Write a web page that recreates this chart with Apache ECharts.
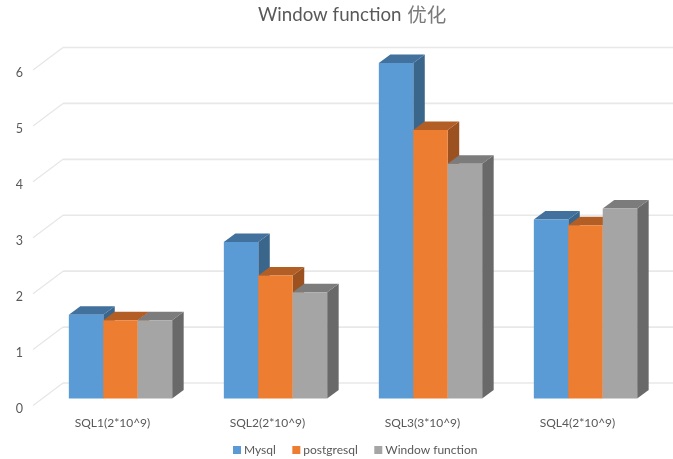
<!DOCTYPE html>
<html>
<head>
<meta charset="utf-8">
<style>html,body{margin:0;padding:0;background:#fff}#chart{width:673px;height:459px}</style>
<script src="https://cdn.jsdelivr.net/npm/echarts@6/dist/echarts.min.js"></script>
</head>
<body>
<div id="chart"></div>
<script>
const categories = ['SQL1(2*10^9)', 'SQL2(2*10^9)', 'SQL3(3*10^9)', 'SQL4(2*10^9)'];
const mysql = [1.5, 2.8, 6, 3.2];
const postgresql = [1.4, 2.2, 4.8, 3.1];
const windowFunction = [1.4, 1.9, 4.2, 3.4];
const yTicks = [0, 1, 2, 3, 4, 5, 6];

// Oblique projection used for the cuboids and the back wall
const DEPTH_X = 11.5, DEPTH_Y = 8.5;

function face(points, fill) {
  return { type: 'polygon', shape: { points }, style: { fill }, silent: true };
}

// One cuboid: front, top and right side, placed inside its category band
function cuboid(slot, colors) {
  return function (params, api) {
    const idx = api.value(0);
    const top = api.coord([idx, api.value(1)]);
    const base = api.coord([idx, 0]);
    const w = api.size([1, 0])[0] / 4.5;
    const x0 = top[0] - 1.5 * w + slot * w, x1 = x0 + w;
    const yT = top[1], yB = base[1];
    return {
      type: 'group',
      children: [
        face([[x1, yB], [x1 + DEPTH_X, yB - DEPTH_Y], [x1 + DEPTH_X, yT - DEPTH_Y], [x1, yT]], colors.side),
        face([[x0, yT], [x0 + DEPTH_X, yT - DEPTH_Y], [x1 + DEPTH_X, yT - DEPTH_Y], [x1, yT]], colors.top),
        face([[x0, yT], [x1, yT], [x1, yB], [x0, yB]], colors.front)
      ]
    };
  };
}

// Floor and wall gridlines: a thin diagonal on the left side, then a heavier run across the back
function wallLine(params, api) {
  const y = api.coord([0, api.value(0)])[1];
  const cs = params.coordSys;
  const backX = cs.x + 20, backY = y - 15.5;
  return {
    type: 'group',
    silent: true,
    children: [
      { type: 'line', silent: true, shape: { x1: cs.x - 10, y1: y + 7, x2: backX, y2: backY },
        style: { stroke: '#e6e6e6', lineWidth: 1.2 } },
      { type: 'line', silent: true, shape: { x1: backX, y1: backY, x2: cs.x + cs.width + 10, y2: backY },
        style: { stroke: '#e8e8e8', lineWidth: 1.6 } }
    ]
  };
}

const bar = (name, values, slot, colors) => ({
  name,
  type: 'custom',
  renderItem: cuboid(slot, colors),
  data: values.map((v, i) => [i, v]),
  encode: { x: 0, y: 1 },
  itemStyle: { color: colors.front },
  clip: false,
  z: 3 + slot
});

const chart = echarts.init(document.getElementById('chart'), null, { renderer: 'canvas' });
chart.setOption({
  animation: false,
  backgroundColor: '#fff',
  title: {
    text: '{latin|Window function }{han|优化}',
    left: 258, top: 5,
    padding: 0,
    textStyle: {
      fontWeight: 'normal',
      rich: {
        latin: { fontFamily: 'Lato', fontWeight: 'normal', fontSize: 18.7, color: '#595959' },
        han: { fontFamily: '"Noto Sans CJK SC"', fontWeight: 'normal', fontSize: 19.5, color: '#7a7a7a', padding: [0, 0, 0, 1] }
      }
    }
  },
  legend: {
    data: ['Mysql', 'postgresql', 'Window function'],
    left: 233, top: 444, padding: 0,
    icon: 'rect', itemWidth: 8, itemHeight: 8, itemGap: 16.5,
    textStyle: { fontFamily: 'Lato', fontSize: 12, color: '#595959', padding: [0, 0, 0, -2] }
  },
  grid: { left: 43, top: 63, width: 620, height: 335.5 },
  xAxis: {
    type: 'category',
    data: categories,
    axisLine: { show: false }, axisTick: { show: false }, splitLine: { show: false },
    axisLabel: { margin: 19, color: '#595959', fontFamily: 'Lato', fontSize: 12, padding: [0, 16, 0, 0] }
  },
  yAxis: {
    type: 'value', min: 0, max: 6, interval: 1,
    axisLine: { show: false }, axisTick: { show: false }, splitLine: { show: false },
    axisLabel: { margin: 20, color: '#595959', fontFamily: 'Lato', fontSize: 12.5, verticalAlign: 'top', lineHeight: 20 }
  },
  series: [
    { name: 'wall', type: 'custom', renderItem: wallLine, data: yTicks.map(v => [v]), encode: { y: 0 }, clip: false, z: 1, silent: true },
    bar('Mysql', mysql, 0, { front: '#5b9bd5', top: '#41719c', side: '#3b668c' }),
    bar('postgresql', postgresql, 1, { front: '#ed7d31', top: '#b25e25', side: '#9c5220' }),
    bar('Window function', windowFunction, 2, { front: '#a5a5a5', top: '#7c7c7c', side: '#696969' })
  ]
});
</script>
</body>
</html>
